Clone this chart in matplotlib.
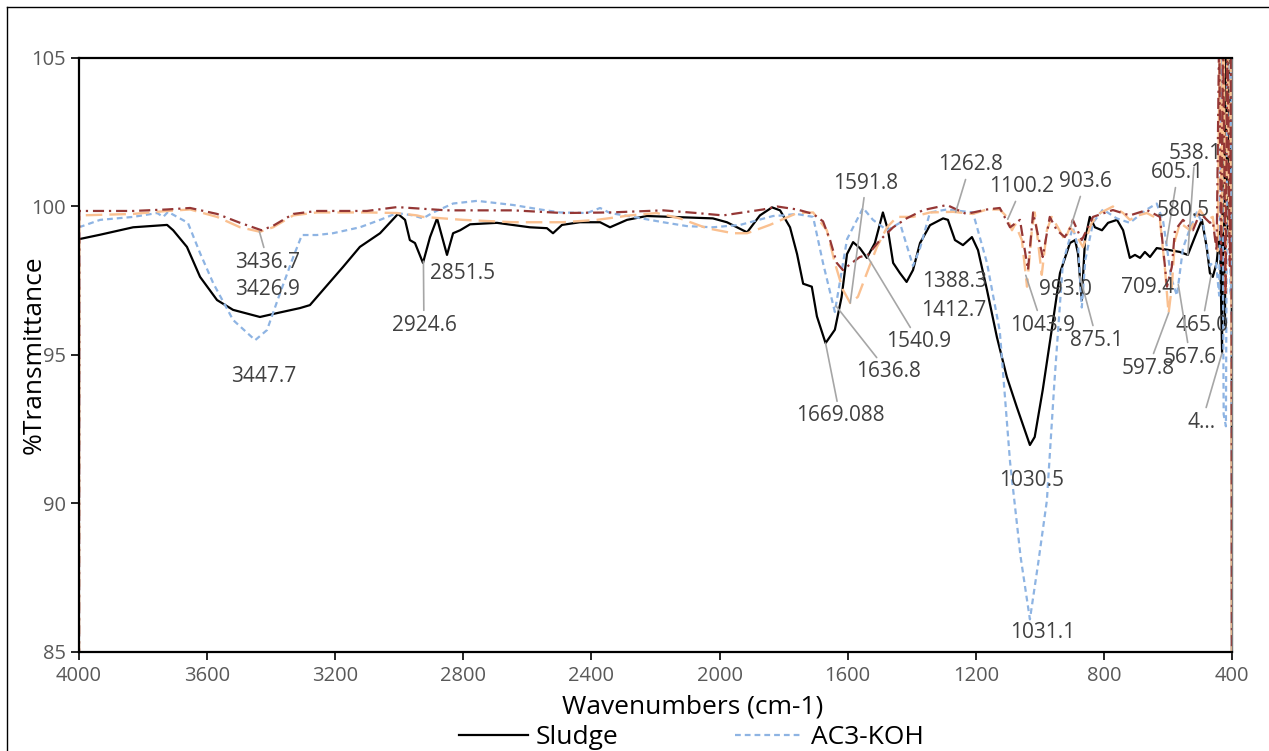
import numpy as np
import matplotlib
matplotlib.use("Agg")
import matplotlib.pyplot as plt
from matplotlib.lines import Line2D

plt.rcParams['font.family'] = ['Open Sans', 'DejaVu Sans']

# ---- data ----
sludge_wn = [4000, 3934, 3831, 3725, 3706, 3663, 3622, 3569, 3519, 3435, 3382, 3310, 3279, 3238,
             3176, 3123, 3060, 3004, 2982, 2967, 2951, 2926, 2904, 2882, 2851, 2832, 2810, 2779,
             2695, 2592, 2539, 2520, 2492, 2436, 2373, 2342, 2289, 2227, 2021, 1977, 1914, 1874,
             1836, 1811, 1780, 1758, 1739, 1712, 1696, 1669, 1640, 1619, 1602, 1583, 1562, 1540,
             1515, 1490, 1474, 1458, 1437, 1416, 1396, 1374, 1343, 1302, 1287, 1265, 1240, 1212,
             1193, 1165, 1134, 1103, 1072, 1047, 1031, 1016, 991, 963, 937, 906, 890, 881, 869,
             859, 844, 828, 806, 787, 759, 740, 719, 703, 687, 672, 656, 635, 594, 563, 538, 516,
             494, 479, 469, 460, 448, 438, 431, 428, 422, 418, 412, 408, 404, 401, 400]
sludge_t = [98.9, 99.05, 99.3, 99.38, 99.2, 98.64, 97.63, 96.85, 96.52, 96.28, 96.41, 96.58, 96.68,
            97.19, 97.96, 98.64, 99.1, 99.75, 99.55, 98.87, 98.77, 98.1, 98.97, 99.6, 98.37, 99.1,
            99.2, 99.4, 99.45, 99.3, 99.27, 99.1, 99.38, 99.47, 99.47, 99.3, 99.55, 99.68, 99.6,
            99.47, 99.13, 99.7, 99.97, 99.87, 99.3, 98.4, 97.4, 97.3, 96.3, 95.4, 95.85, 96.95,
            98.4, 98.8, 98.6, 98.27, 98.77, 99.8, 99.2, 98.1, 97.76, 97.46, 97.86, 98.77, 99.37,
            99.6, 99.55, 98.87, 98.7, 98.97, 98.53, 97.19, 95.6, 94.26, 93.25, 92.47, 91.97, 92.24,
            93.82, 95.84, 97.76, 98.77, 98.87, 98.43, 96.85, 98.87, 99.65, 99.3, 99.2, 99.45,
            99.55, 99.2, 98.27, 98.37, 98.27, 98.47, 98.3, 98.6, 98.53, 98.47, 98.37, 98.97,
            99.55, 98.63, 97.76, 97.63, 98.1, 99.2, 95.07, 106, 96.0, 106, 99.0, 106, 98.0, 106, 80]

ac3_wn = [4000, 3934, 3831, 3756, 3737, 3722, 3660, 3622, 3581, 3519, 3450, 3413, 3372, 3331, 3304,
          3257, 3207, 3123, 3060, 3007, 2957, 2926, 2894, 2832, 2757, 2644, 2560, 2498, 2414, 2373,
          2342, 2270, 2176, 2102, 2021, 1936, 1833, 1802, 1760, 1708, 1677, 1640, 1602, 1552, 1521,
          1477, 1437, 1396, 1374, 1343, 1290, 1209, 1165, 1125, 1093, 1060, 1031, 1005, 978, 955,
          928, 897, 880, 869, 858, 834, 803, 760, 719, 690, 666, 635, 615, 603, 590, 572, 553, 530,
          510, 490, 469, 462, 450, 440, 432, 426, 419, 414, 408, 404, 401, 400]
ac3_t = [99.3, 99.55, 99.65, 99.78, 99.65, 99.82, 99.45, 98.43, 97.42, 96.18, 95.5, 95.84, 97.09,
         98.3, 99.04, 99.04, 99.1, 99.3, 99.55, 99.78, 99.7, 99.6, 99.8, 100.1, 100.19, 100.05, 99.9,
         99.8, 99.78, 99.95, 99.78, 99.65, 99.47, 99.34, 99.3, 99.38, 99.68, 99.7, 99.75, 99.65, 98.1,
         96.45, 98.9, 99.95, 99.55, 99.2, 99.45, 98.0, 98.6, 99.8, 99.9, 99.8, 98.1, 95.8, 91.4, 88.2,
         86.1, 88.0, 90.1, 94.0, 98.1, 99.3, 98.6, 96.6, 98.2, 99.45, 99.9, 99.6, 99.45, 99.7, 99.9,
         100.1, 99.5, 98.6, 97.6, 97.0, 98.6, 99.3, 99.8, 99.4, 98.0, 98.1, 98.1, 97.0, 106, 93.0,
         92.6, 106, 106, 97.0, 106, 80]

ac1_wn = [4000, 3999, 3831, 3725, 3653, 3569, 3497, 3435, 3394, 3331, 3257, 3101, 3007, 2945, 2926,
          2801, 2644, 2489, 2383, 2280, 2196, 2124, 2040, 1958, 1914, 1843, 1758, 1708, 1665, 1640,
          1615, 1592, 1568, 1540, 1509, 1477, 1446, 1396, 1343, 1271, 1209, 1165, 1125, 1103, 1087,
          1077, 1056, 1040, 1025, 1016, 994, 978, 963, 944, 922, 906, 890, 865, 838, 812, 772, 740,
          719, 693, 666, 625, 609, 598, 588, 578, 562, 531, 500, 479, 460, 452, 445, 438, 432, 426,
          420, 414, 408, 403, 400]
ac1_t = [80, 99.7, 99.75, 99.85, 99.9, 99.65, 99.3, 99.15, 99.3, 99.7, 99.8, 99.8, 99.78, 99.7,
         99.65, 99.55, 99.47, 99.47, 99.55, 99.7, 99.78, 99.6, 99.27, 99.1, 99.1, 99.38, 99.78, 99.8,
         99.2, 98.1, 97.2, 96.75, 96.96, 97.76, 98.63, 99.3, 99.65, 99.65, 99.8, 99.82, 99.75, 99.9,
         99.9, 99.65, 99.2, 99.4, 98.87, 97.3, 99.2, 99.8, 97.7, 99.2, 99.65, 99.3, 98.87, 99.3, 99.1,
         98.63, 99.45, 99.78, 100.0, 99.78, 99.55, 99.7, 99.78, 99.55, 97.86, 96.4, 97.3, 98.87,
         99.45, 99.2, 99.88, 99.55, 99.65, 99.0, 98.5, 106, 99.0, 106, 97.0, 106, 99.0, 106, 80]

ac2_wn = [4000, 3999, 3831, 3725, 3653, 3569, 3497, 3430, 3394, 3331, 3257, 3101, 3007, 2851, 2644,
          2489, 2342, 2176, 2071, 1989, 1864, 1820, 1758, 1708, 1677, 1655, 1634, 1615, 1587, 1562,
          1537, 1499, 1458, 1416, 1364, 1290, 1230, 1165, 1125, 1093, 1062, 1037, 1021, 991, 969,
          947, 922, 904, 897, 869, 834, 772, 719, 666, 625, 603, 588, 578, 553, 522, 500, 469, 460,
          448, 440, 434, 428, 420, 414, 407, 402, 400]
ac2_t = [80, 99.85, 99.85, 99.9, 99.95, 99.75, 99.45, 99.2, 99.35, 99.75, 99.85, 99.85, 99.98, 99.87,
         99.87, 99.78, 99.8, 99.87, 99.78, 99.7, 99.9, 100.0, 99.9, 99.75, 99.5, 98.87, 98.1, 97.86,
         98.1, 98.3, 98.37, 98.87, 99.3, 99.6, 99.88, 100.05, 99.75, 99.9, 99.95, 99.3, 99.55, 97.86,
         99.8, 98.3, 99.65, 99.2, 98.97, 99.3, 99.55, 98.87, 99.65, 99.88, 99.7, 99.88, 99.65, 97.3,
         97.96, 99.2, 99.55, 99.2, 99.78, 99.45, 99.5, 98.5, 106, 98.0, 106, 97.0, 106, 98.0, 106, 80]

series = {
    'Sludge': (sludge_wn, sludge_t),
    'AC3-KOH': (ac3_wn, ac3_t),
    'AC1-KOH': (ac1_wn, ac1_t),
    'AC2-KOH': (ac2_wn, ac2_t),
}

# peak labels: text, series it points to, wavenumber of the point, label position, leader line?
ann_text = ['3436.7', '3426.9', '3447.7', '2924.6', '2851.5', '1669.088', '1636.8', '1540.9',
            '1412.7', '1388.3', '1591.8', '1262.8', '1100.2', '903.6', '993.0', '1043.9', '875.1',
            '709.4', '605.1', '538.1', '580.5', '465.0', '567.6', '597.8', '4…', '1030.5', '1031.1']
ann_series = ['AC1-KOH', 'AC2-KOH', 'AC3-KOH', 'Sludge', 'Sludge', 'Sludge', 'AC3-KOH', 'AC2-KOH',
              'Sludge', 'AC3-KOH', 'AC1-KOH', 'AC1-KOH', 'AC1-KOH', 'AC2-KOH', 'AC1-KOH', 'AC1-KOH',
              'Sludge', 'Sludge', 'AC3-KOH', 'Sludge', 'AC3-KOH', 'Sludge', 'AC3-KOH', 'AC1-KOH',
              'Sludge', 'Sludge', 'AC3-KOH']
ann_wn = [3436.7, 3426.9, 3447.7, 2924.6, 2851.5, 1669.088, 1636.8, 1540.9, 1412.7, 1388.3, 1591.8,
          1262.8, 1100.2, 903.6, 993.0, 1043.9, 875.1, 709.4, 605.1, 538.1, 580.5, 465.0, 567.6,
          597.8, 431, 1030.5, 1031.1]
ann_pos = [(3410, 98.13), (3413, 97.19), (3422, 94.29), (2923, 96.01), (2801, 97.73), (1624, 92.95),
           (1474, 94.43), (1377, 95.44), (1268, 96.5), (1265, 97.46), (1543, 100.79), (1218, 101.4),
           (1056, 100.66), (859, 100.83), (921, 97.19), (993, 96.01), (822, 95.5), (665, 97.26),
           (569, 101.13), (516, 101.8), (553, 99.88), (494, 96.0), (531, 94.93), (662, 94.56),
           (494, 92.74), (1025, 90.79), (990, 85.64)]
ann_leader = [True, False, False, True, False, True, True, True, False, False, True, True, True,
              True, False, True, True, False, True, True, False, True, True, True, True, False, False]

styles = {
    'Sludge': dict(color='black', lw=1.6, ls='-'),
    'AC3-KOH': dict(color='#8EB4E3', lw=1.6, ls=(0, (2.6, 1.8))),
    'AC1-KOH': dict(color='#FAC090', lw=1.7, ls=(0, (7, 3))),
    'AC2-KOH': dict(color='#953735', lw=1.6, ls=(0, (5, 2.2, 1, 2.2))),
}

fig = plt.figure(figsize=(12.69, 7.51), dpi=100)
ax = fig.add_axes([79 / 1269, 1 - 652 / 751, (1232 - 79) / 1269, (652 - 58) / 751])

handles = {}
for name in ['Sludge', 'AC3-KOH', 'AC1-KOH', 'AC2-KOH']:
    wn, t = series[name]
    handles[name], = ax.plot(wn, t, label=name, **styles[name])

for txt, s, w, pos, lead in zip(ann_text, ann_series, ann_wn, ann_pos, ann_leader):
    wn, t = series[s]
    y = np.interp(w, wn[::-1], t[::-1])
    props = dict(arrowstyle='-', color='#A6A6A6', lw=1.2, shrinkA=1, shrinkB=0) if lead else None
    ax.annotate(txt, xy=(w, y), xytext=pos, ha='center', va='center', fontsize=15,
                color='#404040', arrowprops=props, zorder=5)

ax.set_xlim(4000, 400)
ax.set_ylim(85, 105)
ax.set_xticks(np.arange(4000, 399, -400))
ax.set_yticks([85, 90, 95, 100, 105])
ax.tick_params(axis='both', direction='out', length=6, width=1.2, colors='black',
               labelcolor='#595959', labelsize=14.5)
ax.tick_params(axis='x', pad=4)
for side in ['left', 'bottom', 'top']:
    ax.spines[side].set_linewidth(1.6)
    ax.spines[side].set_color('black')
ax.spines['right'].set_linewidth(1.0)
ax.spines['right'].set_color('#7F7F7F')

ax.set_ylabel('%Transmittance', fontsize=19, color='black')
ax.yaxis.set_label_coords(-0.028, 0.5)
ax.set_xlabel('Wavenumbers (cm-1)', fontsize=19, color='black')
ax.xaxis.set_label_coords(0.532, -0.0926)
ax.xaxis.label.set_va('center')

# only the first legend row is visible in the reference
shown = ['Sludge', 'AC3-KOH']
fig.legend([handles[n] for n in shown], shown, ncol=2, loc='upper center',
           bbox_to_anchor=(0.545, 0.052), frameon=False, fontsize=19, handlelength=2.6,
           handletextpad=0.3, columnspacing=4.4, borderpad=0)

# outer chart border (only the top and left edges fall inside the image)
fig.add_artist(Line2D([7 / 1269, 1], [1 - 7 / 751, 1 - 7 / 751], color='black', lw=1.0))
fig.add_artist(Line2D([7 / 1269, 7 / 1269], [0, 1 - 7 / 751], color='black', lw=1.0))

fig.savefig('out.png', dpi=100)
